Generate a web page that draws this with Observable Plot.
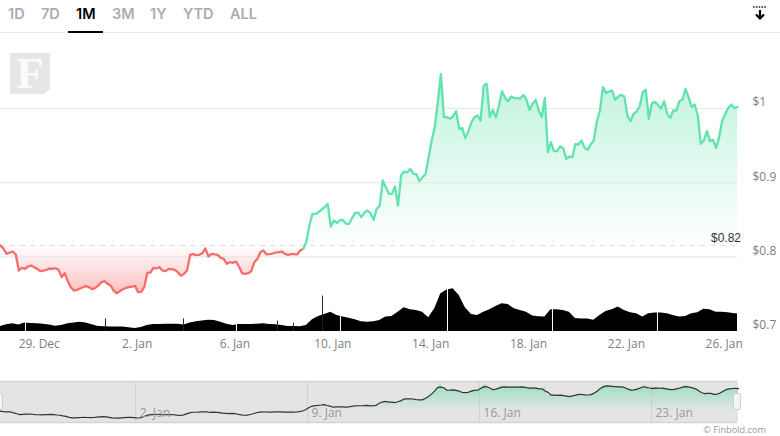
<!DOCTYPE html>
<html>
<head>
<meta charset="utf-8">
<script src="https://cdn.jsdelivr.net/npm/d3@7"></script>
<script src="https://cdn.jsdelivr.net/npm/@observablehq/plot@0.6"></script>
<style>
  html,body{margin:0;padding:0;background:#fff;overflow:hidden;width:780px;height:436px;position:relative;}
  .tab{position:absolute;top:5px;font:600 14.5px/17px Inter,sans-serif;color:#a9abb6;}
  .tab.on{color:#000;}
  #rule{position:absolute;left:0;top:32px;width:780px;height:1px;background:#e8e9f0;}
  #bar{position:absolute;left:68px;top:31px;width:35px;height:2px;background:#000;}
  #logo{position:absolute;left:10px;top:53px;width:40px;height:41px;background:#e6e6e6;
        clip-path:polygon(0 0,100% 0,100% 88%,85% 100%,0 100%);
        font:700 45px/41px "Liberation Serif",serif;color:#fafafa;text-align:center;}
  #dl{position:absolute;left:752px;top:5px;}
  #main,#nav{position:absolute;left:0;}
  #main{top:33px;}
  #nav{top:375px;}
  #credit{position:absolute;right:14px;top:423px;font:9.2px/14px "Open Sans",sans-serif;color:#999;}
  #hl,#hr{position:absolute;top:393px;width:6px;height:15px;background:#f4f4f4;border:1px solid #cfcfcf;border-radius:2px;}
  #hl{left:-5px;} #hr{left:733px;}
  svg{display:block;overflow:visible;}
</style>
</head>
<body>
<div id="tabs"></div>
<div id="rule"></div>
<div id="bar"></div>
<div id="logo">F</div>
<svg id="dl" width="16" height="16" viewBox="0 0 16 16">
  <line x1="1" y1="2" x2="15" y2="2" stroke="#222" stroke-width="1.5" stroke-dasharray="1.6 1.2"/>
  <path d="M8 5V13M4 9.5L8 13.5L12 9.5" fill="none" stroke="#000" stroke-width="2.2"/>
</svg>
<div id="main"></div>
<div id="nav"></div>
<div id="hl"></div><div id="hr"></div>
<div id="credit">© Finbold.com</div>
<script>
// Range selector
const tabNames = ["1D","7D","1M","3M","1Y","YTD","ALL"];
const tabLefts = [8,41,76,112,150,183,230];
const activeTab = "1M";

// Price in USD, one reading every 3 hours from the start time
const startTime = "2021-12-27T10:00:00Z";
const priceStepHours = 3;
const prices = [
.8154,.8109,.8041,.8059,.8073,.8033,.7817,.7853,.7839,.7871,.7884,.7862,.7839,.7808,.7817,.7826,.7844,.7839,.7848,.7826,
.7727,.7781,.7673,.7592,.7547,.7556,.7574,.7592,.7606,.7592,.7565,.7583,.7615,.7660,.7673,.7637,.7615,.7547,.7511,.7538,
.7565,.7583,.7592,.7601,.7610,.7525,.7529,.7592,.7785,.7790,.7853,.7844,.7862,.7817,.7808,.7839,.7835,.7826,.7794,.7745,
.7772,.7817,.8028,.8037,.8024,.8028,.8050,.8113,.8006,.8041,.8033,.8028,.7988,.7974,.7907,.7929,.7920,.7938,.7871,.7781,
.7772,.7781,.7808,.7929,.7974,.8064,.8086,.8033,.8037,.8046,.8059,.8064,.8073,.8041,.8028,.8037,.8037,.8033,.8086,.8109,
.8200,.8423,.8581,.8581,.8603,.8639,.8670,.8715,.8410,.8491,.8459,.8495,.8495,.8446,.8446,.8527,.8594,.8598,.8536,.8598,
.8625,.8589,.8500,.8648,.8688,.9030,.8940,.8850,.8850,.8949,.8693,.9097,.9151,.9138,.9187,.9120,.9115,.9021,.9075,.9115,
.9344,.9569,.9748,1.0085,1.0467,.9883,.9883,.9861,.9897,.9964,.9726,.9735,.9600,.9695,.9816,.9883,.9906,.9838,1.0310,1.0332,
.9883,.9982,.9883,1.0040,1.0234,1.0144,1.0099,1.0162,1.0139,1.0139,1.0135,1.0184,1.0117,.9982,1.0063,1.0117,.9973,.9883,1.0144,.9412,
.9546,.9425,.9425,.9488,.9466,.9322,.9353,.9344,.9524,.9515,.9569,.9470,.9443,.9515,.9569,.9825,.9973,1.0288,1.0211,1.0229,
1.0243,1.0117,1.0162,1.0184,1.0162,.9906,.9829,.9928,.9960,1.0027,1.0220,1.0252,.9861,1.0072,1.0090,1.0049,.9996,1.0099,.9928,.9874,
.9973,.9973,1.0099,1.0121,1.0265,1.0153,1.0018,1.0054,.9906,.9524,.9569,.9695,.9560,.9578,.9470,.9614,.9838,.9928,1.0009,1.0054,
1.0005,1.0018
];
const redEndIndex = 99;

// Volume (relative units, drawn along the lower price band), one reading every 6 hours
const volumeStepHours = 6;
const volumes = [
6.8,9,10.4,8.6,11.3,10.8,10.4,9.9,8.6,7.2,8.1,10.4,11.3,12.6,11.3,9,6.8,6.3,5.9,5.9,
5.9,5,4,5.4,8.1,9.5,9.5,9.9,9.9,9.9,8.6,11.3,13,14,15.3,14.9,12.6,9.9,8.1,9.5,
9.5,9.5,9.9,10.4,9.5,9,8.1,6.8,6.8,6.3,8.1,15.8,20.3,23,26.1,21.6,19.4,18,15.8,13,
12.6,13,14.9,19.4,20.3,26.1,32,29.3,28.4,26.1,18.5,30.6,50.9,56,57.6,48.6,32,23,21.6,26,
29.3,33.8,37.4,36.5,30.6,28.4,26,21,19.8,19.4,29.3,29.3,28.4,26,17.6,17,17,15,21.6,27,
29.3,32.9,28.4,25.2,23.9,19.4,23.9,24.8,24.8,23.9,21.6,19.4,20.3,23.9,25.2,30,29.3,26,26,25.2,
23.9,23.9
];
const volumeSpikeTimes = ["2021-12-31T17:00Z","2022-01-03T21:30Z","2022-01-07T17:40Z","2022-01-08T09:20Z","2022-01-09T13:50Z"];
const volumeSpikes = [17,17,14,11,47.7];
const volumeGapTimes = ["2021-12-28T10:30Z","2022-01-06T01:30Z","2022-01-10T07:30Z","2022-01-14T16:30Z","2022-01-18T23:30Z","2022-01-23T06:30Z"];

// Axes
const xTickDates = ["2021-12-29","2022-01-02","2022-01-06","2022-01-10","2022-01-14","2022-01-18","2022-01-22","2022-01-26"];
const navTickDates = ["2022-01-02","2022-01-09","2022-01-16","2022-01-23"];
const yTicks = [0.7,0.8,0.9,1];
const openPrice = 0.8155;
const openLabel = "$0.82";

// ---- build ----
d3.select("#tabs").selectAll("span").data(tabNames).join("span")
  .attr("class", d => "tab" + (d === activeTab ? " on" : ""))
  .style("left", (d,i) => tabLefts[i] + "px").text(d => d);

const t0 = new Date(startTime).getTime();
const HOUR = 36e5;
const series = prices.map((price,i) => ({i, date:new Date(t0 + i*priceStepHours*HOUR), price}));
const vols = volumes.map((v,j) => ({date:new Date(t0 + j*volumeStepHours*HOUR), v}));
const spikes = volumeSpikeTimes.map((t,k) => ({date:new Date(t), v:volumeSpikes[k]}));
const gaps = volumeGapTimes.map(t => new Date(t));
const xDomain = [new Date(t0), new Date(t0 + (prices.length-1)*priceStepHours*HOUR)];
const red = series.filter(d => d.i <= redEndIndex);
const green = series.filter(d => d.i >= redEndIndex);
const volBase = 0.6995;
const volY = v => volBase + v/1000;
const fmtDate = d3.utcFormat("%-d. %b");

function gradient(id, stops){
  return () => {
    const defs = d3.create("svg:defs");
    const g = defs.append("linearGradient").attr("id", id)
      .attr("x1",0).attr("y1",0).attr("x2",0).attr("y2",1);
    stops.forEach(([o,c,a]) => g.append("stop").attr("offset",o).attr("stop-color",c).attr("stop-opacity",a));
    return defs.node();
  };
}

const main = Plot.plot({
  width:780, height:328,
  marginLeft:0, marginRight:43, marginTop:0, marginBottom:30,
  style:{background:"transparent", fontFamily:"'Open Sans',sans-serif", fontSize:"12px", overflow:"visible"},
  x:{type:"utc", domain:xDomain, range:[0,737]},
  y:{domain:[volBase, 1.1011], range:[298,0]},
  marks:[
    gradient("gGreen",[[0,"#62e3ad",0.42],[1,"#62e3ad",0]]),
    gradient("gRed",[[0,"#f76c6c",0],[1,"#f76c6c",0.42]]),
    Plot.areaY(green,{x:"date",y1:()=>openPrice,y2:"price",fill:"url(#gGreen)"}),
    Plot.areaY(red,{x:"date",y1:()=>openPrice,y2:"price",fill:"url(#gRed)"}),
    Plot.ruleY(yTicks.slice(1),{stroke:"#e8e8e8",strokeWidth:1.2}),
    Plot.ruleY([openPrice],{stroke:"#dedede",strokeDasharray:"5,5"}),
    Plot.line(red,{x:"date",y:"price",stroke:"#f76c6c",strokeWidth:2.3}),
    Plot.line(green,{x:"date",y:"price",stroke:"#62e3ad",strokeWidth:2.3}),
    Plot.areaY(vols,{x:"date",y1:()=>volBase,y2:d=>volY(d.v),fill:"#000",clip:true}),
    Plot.ruleX(spikes,{x:"date",y1:()=>volBase,y2:d=>volY(d.v),stroke:"#222",strokeWidth:1}),
    Plot.ruleX(gaps,{x:d=>d,y1:()=>volBase,y2:()=>volBase+0.058,stroke:"#fff",strokeWidth:1,clip:true}),
    Plot.text([openLabel],{x:()=>xDomain[1],y:()=>openPrice,text:d=>d,dx:3.5,dy:-7,textAnchor:"end",fill:"#333",fontSize:12,fontFamily:"'Liberation Sans',sans-serif"}),
    Plot.axisX(xTickDates.map(d=>new Date(d)),{tickSize:0,tickPadding:8,tickFormat:fmtDate,fill:"#808080",label:null}),
    Plot.axisY(yTicks,{anchor:"right",tickSize:0,tickPadding:15,dy:-6,tickFormat:d=>"$"+d,fill:"#808080",label:null})
  ]
});
document.getElementById("main").append(main);

const navFrame = [{a:xDomain[0],b:xDomain[1]}];
const nav = Plot.plot({
  width:780, height:55,
  marginLeft:0, marginRight:43, marginTop:6, marginBottom:8,
  style:{background:"transparent", fontFamily:"'Open Sans',sans-serif", fontSize:"12px", overflow:"visible"},
  x:{type:"utc", domain:xDomain, range:[-2,738], axis:null},
  y:{domain:[0.717,1.061], range:[47,6], axis:null},
  marks:[
    gradient("gNav",[[0,"#7fdcb3",0.75],[1,"#7fdcb3",0]]),
    Plot.rectY(navFrame,{x1:"a",x2:"b",y1:()=>0.717,y2:()=>1.061,fill:"#e4e4e4"}),
    Plot.ruleX(navTickDates.map(d=>new Date(d)),{stroke:"#d0d0d0",strokeWidth:1}),
    Plot.ruleY([0.717,1.061],{stroke:"#d4d4d4",strokeWidth:1.5}),
    Plot.areaY(green,{x:"date",y1:()=>openPrice,y2:"price",fill:"url(#gNav)"}),
    Plot.line(series,Plot.windowY(3,{x:"date",y:"price",stroke:"#333",strokeWidth:1.2})),
    Plot.text(navTickDates.map(d=>new Date(d)),{x:d=>d,y:()=>0.717,text:d=>fmtDate(d),dx:4,dy:-9,textAnchor:"start",fill:"#999",fontSize:12})
  ]
});
document.getElementById("nav").append(nav);
</script>
</body>
</html>
